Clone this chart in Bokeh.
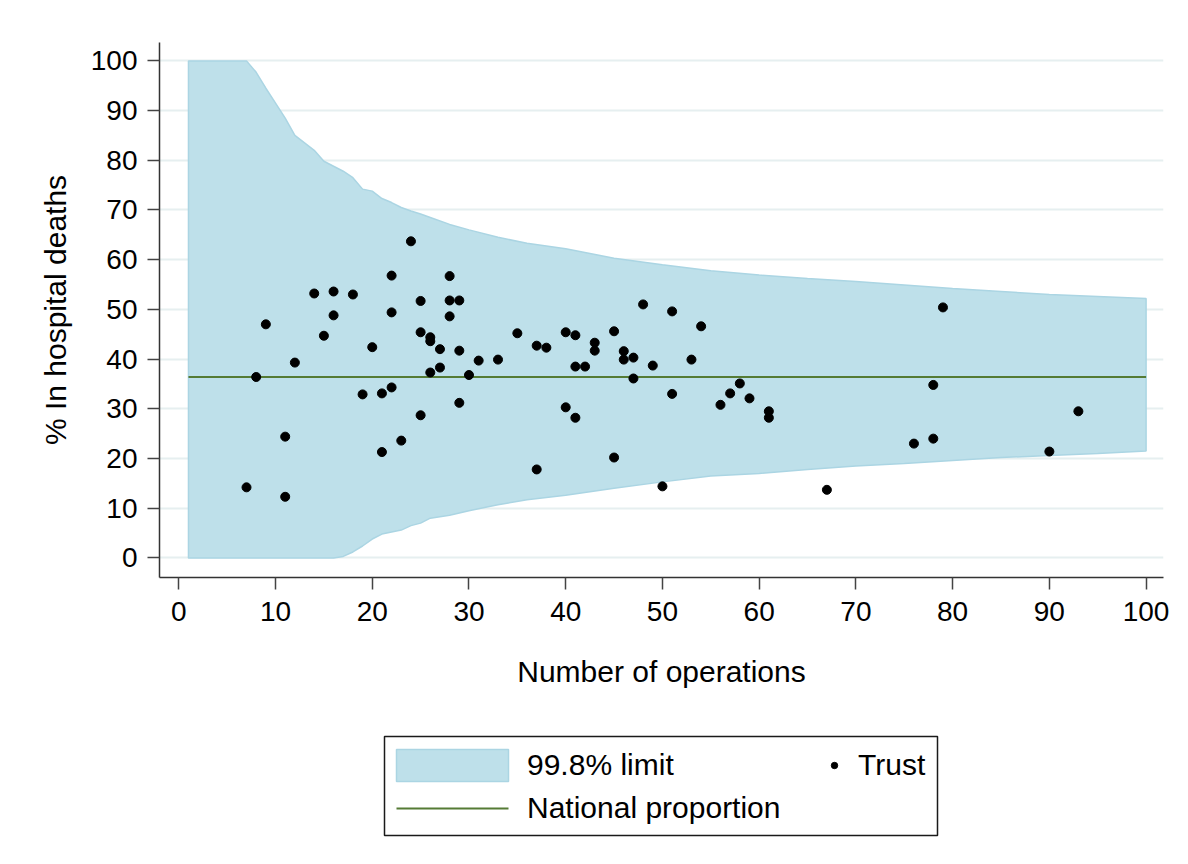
from bokeh.plotting import figure
from bokeh.layouts import column
from bokeh.models import Range1d, Legend, LegendItem, FixedTicker, BoxAnnotation
from bokeh.embed import file_html
from bokeh.resources import INLINE

# ---- data ----
trust_ops = [7, 8, 9, 11, 11, 12, 14, 15, 16, 16, 18, 19, 20, 21, 21, 22, 22, 22, 23, 24,
             25, 25, 25, 26, 26, 26, 27, 27, 28, 28, 28, 29, 29, 29, 30, 31, 33, 35, 37, 37,
             38, 40, 40, 41, 41, 41, 42, 43, 43, 45, 45, 46, 46, 47, 47, 48, 49, 50, 51, 51,
             53, 54, 56, 57, 58, 59, 61, 61, 67, 76, 78, 78, 79, 90, 93]
trust_pct = [14.2, 36.4, 47.0, 24.4, 12.3, 39.3, 53.2, 44.7, 53.6, 48.8, 53.0, 32.9, 42.4, 33.1, 21.3, 56.8, 49.4, 34.3, 23.6, 63.7,
             51.7, 45.4, 28.7, 44.4, 43.6, 37.3, 42.0, 38.3, 56.7, 51.8, 48.6, 51.8, 41.7, 31.2, 36.8, 39.7, 39.9, 45.2, 42.7, 17.8,
             42.3, 45.4, 30.3, 44.8, 38.5, 28.2, 38.5, 43.3, 41.7, 45.6, 20.2, 41.6, 39.9, 40.3, 36.1, 51.0, 38.7, 14.4, 49.6, 33.0,
             39.9, 46.6, 30.8, 33.1, 35.1, 32.1, 29.5, 28.2, 13.7, 23.0, 34.8, 24.0, 50.4, 21.4, 29.5]

national_proportion = 36.4

limit_ops = [1, 6, 7, 8, 9, 10, 11, 12, 13, 14, 15, 16, 17, 18, 19, 20, 21, 22, 23, 24, 25, 26,
             28, 30, 33, 36, 40, 45, 50, 55, 60, 65, 70, 75, 80, 85, 90, 95, 100]
limit_upper = [100, 100, 100, 97.7, 94.5, 91.5, 88.5, 85.0, 83.5, 82.0, 79.8, 78.8, 77.8, 76.5, 74.2, 73.8, 72.3, 71.5, 70.5, 69.8, 69.2, 68.5,
               67.1, 66.0, 64.5, 63.3, 62.2, 60.3, 59.0, 57.8, 56.9, 56.2, 55.6, 54.9, 54.2, 53.6, 53.0, 52.6, 52.2]
limit_lower = [0, 0, 0, 0, 0, 0, 0, 0, 0, 0, 0, 0, 0.3, 1.2, 2.4, 3.8, 4.8, 5.2, 5.6, 6.5, 7.0, 8.0,
               8.6, 9.5, 10.7, 11.7, 12.6, 14.0, 15.3, 16.5, 17.0, 17.8, 18.5, 19.0, 19.6, 20.2, 20.6, 21.0, 21.5]

tick_values = [0, 10, 20, 30, 40, 50, 60, 70, 80, 90, 100]

FONT = "Liberation Sans"
BAND_FILL = "#bee0ea"
BAND_LINE = "#abd5e3"
NAT_COLOR = "#557b35"

band_x = limit_ops + limit_ops[::-1]
band_y = limit_upper + limit_lower[::-1]
nat_x = [limit_ops[0], limit_ops[-1]]
nat_y = [national_proportion, national_proportion]

# ---------------- main chart ----------------
p = figure(width=1180, height=700, output_backend="svg", toolbar_location=None,
           x_range=Range1d(-1.995, 101.8), y_range=Range1d(-3.94, 103.7),
           min_border_left=159, min_border_right=17, min_border_top=42, min_border_bottom=123)
p.outline_line_color = None
p.background_fill_color = "white"
p.border_fill_color = "white"

p.xgrid.grid_line_color = None
p.ygrid.grid_line_color = "#e6eff0"
p.ygrid.grid_line_width = 2
p.ygrid.ticker = FixedTicker(ticks=tick_values)

p.patch(band_x, band_y, fill_color=BAND_FILL, line_color=BAND_LINE, line_width=1.5)
p.line(nat_x, nat_y, line_color=NAT_COLOR, line_width=2)
p.scatter(trust_ops, trust_pct, size=9, marker="circle", fill_color="black", line_color="black")

for ax in (p.xaxis[0], p.yaxis[0]):
    ax.ticker = FixedTicker(ticks=tick_values)
    ax.minor_tick_line_color = None
    ax.major_tick_in = 0
    ax.major_tick_out = 12
    ax.major_tick_line_color = "#444444"
    ax.major_tick_line_width = 1.5
    ax.axis_line_color = "#333333"
    ax.axis_line_width = 1.5
    ax.major_label_text_font = FONT
    ax.major_label_text_font_size = "28px"
    ax.major_label_text_color = "black"
    ax.axis_label_text_font = FONT
    ax.axis_label_text_font_size = "30px"
    ax.axis_label_text_font_style = "normal"
    ax.axis_label_text_color = "black"

p.xaxis.axis_label = "Number of operations"
p.yaxis.axis_label = "% In hospital deaths"
p.xaxis.major_label_standoff = 12
p.yaxis.major_label_standoff = 10
p.xaxis.axis_label_standoff = 31
p.yaxis.axis_label_standoff = 16

# ---------------- legend strip ----------------
lg = figure(width=1180, height=156, output_backend="svg", toolbar_location=None,
            x_axis_type=None, y_axis_type=None,
            x_range=Range1d(-1000, -999), y_range=Range1d(-1000, -999),
            min_border_left=0, min_border_right=0, min_border_top=0, min_border_bottom=0)
lg.outline_line_color = None
lg.grid.visible = False
lg.background_fill_color = "white"
lg.border_fill_color = "white"

# legend renderers share the chart's styles (their marks lie outside this strip's ranges)
band_l = lg.patch(band_x, band_y, fill_color=BAND_FILL, line_color=BAND_LINE, line_width=1.5)
nat_l = lg.line(nat_x, nat_y, line_color=NAT_COLOR, line_width=2, line_dash="0 14 112 14")
pts_l = lg.scatter(trust_ops, trust_pct, size=9, marker="circle", fill_color="black", line_color="black")

frame_box = BoxAnnotation(left=384, right=937, top=36, bottom=135,
                          left_units="canvas", right_units="canvas",
                          top_units="canvas", bottom_units="canvas",
                          fill_alpha=0, line_color="#1a1a1a", line_alpha=1.0, line_width=1.5,
                          level="underlay")
lg.add_layout(frame_box)

legA = Legend(items=[LegendItem(label="99.8% limit", renderers=[band_l]),
                     LegendItem(label="National proportion", renderers=[nat_l])],
              location=(223, 28), orientation="vertical",
              glyph_width=140, glyph_height=40, label_standoff=5,
              padding=0, spacing=3, margin=0,
              label_text_font=FONT, label_text_font_size="30px", label_text_color="black",
              border_line_color=None, background_fill_alpha=0.0)
legB = Legend(items=[LegendItem(label="Trust", renderers=[pts_l])],
              location=(667, 74), orientation="vertical",
              glyph_width=16, glyph_height=34, label_standoff=16,
              padding=0, spacing=0, margin=0,
              label_text_font=FONT, label_text_font_size="30px", label_text_color="black",
              border_line_color=None, background_fill_alpha=0.0)
lg.add_layout(legA)
lg.add_layout(legB)

layout = column(p, lg, spacing=0)
open("out.html", "w").write(file_html(layout, INLINE))
